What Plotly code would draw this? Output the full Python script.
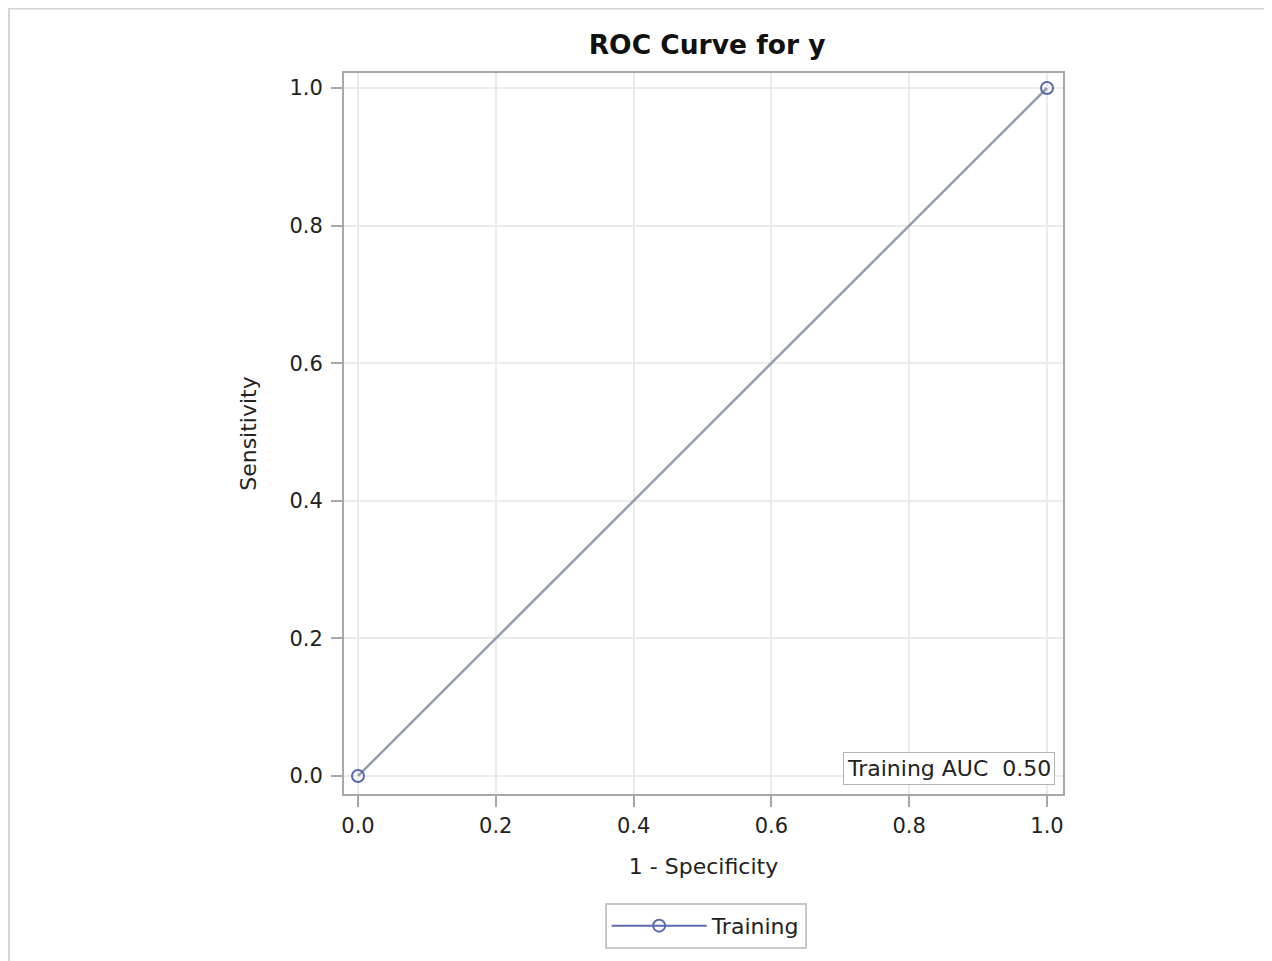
import plotly.graph_objects as go

fpr = [0.0, 1.0]
tpr = [0.0, 1.0]
series_name = "Training"
auc_label = "Training AUC&nbsp; 0.50"
ticks = [0.0, 0.2, 0.4, 0.6, 0.8, 1.0]
tick_text = ["0.0", "0.2", "0.4", "0.6", "0.8", "1.0"]

FONT = "DejaVu Sans, Verdana, sans-serif"
TXT = "#222222"
fig = go.Figure()
fig.add_trace(go.Scatter(x=fpr, y=tpr, mode="lines+markers", showlegend=False,
                         line=dict(color="#959db0", width=2.5),
                         marker=dict(symbol="circle-open", size=12, color="#5a6aab", line=dict(width=2))))
fig.add_trace(go.Scatter(x=[None], y=[None], mode="lines+markers", name=series_name,
                         line=dict(color="#5a6aab", width=2),
                         marker=dict(symbol="circle-open", size=12, color="#5a6aab", line=dict(width=2))))

axis_common = dict(tickvals=ticks, ticktext=tick_text, showgrid=True, gridcolor="#ebebeb", gridwidth=1.5,
                   zeroline=False, showline=True, linecolor="#a8a8a8", linewidth=2, mirror=True,
                   ticks="outside", ticklen=11, tickcolor="#a8a8a8", tickwidth=2,
                   tickfont=dict(size=21, color=TXT, family=FONT))
fig.update_xaxes(range=[-0.0203, 1.0232], ticklabelstandoff=1,
                 title=dict(text="1 - Specificity", font=dict(size=22, color=TXT, family=FONT), standoff=21),
                 **axis_common)
fig.update_yaxes(range=[-0.0262, 1.0218], ticklabelstandoff=4,
                 title=dict(text="Sensitivity", font=dict(size=22, color=TXT, family=FONT), standoff=27),
                 **axis_common)

fig.add_annotation(x=0.9889, y=0.0125, xref="paper", yref="paper", xanchor="right", yanchor="bottom",
                   text=auc_label, showarrow=False, font=dict(size=22, color=TXT, family=FONT),
                   bordercolor="#b4b4b4", borderwidth=1, borderpad=3, bgcolor="white")

fig.add_shape(type="path", xref="paper", yref="paper", path="M 2,1.0895 L -0.4659,1.0895 L -0.4659,-1",
              line=dict(color="#d4d4d4", width=2))

fig.update_layout(
    width=1264, height=953,
    margin=dict(l=336, r=209, t=65, b=167, autoexpand=False),
    paper_bgcolor="white", plot_bgcolor="white",
    title=dict(text="<b>ROC Curve for y</b>", x=0.505, xanchor="center", xref="paper",
               y=1 - 37/953, yanchor="middle", font=dict(size=26.5, color="#111", family=FONT)),
    legend=dict(orientation="h", x=0.503, xanchor="center", y=-0.151, yanchor="top",
                bordercolor="#c8c8c8", borderwidth=2, font=dict(size=22, color=TXT, family=FONT),
                itemwidth=95),
    font=dict(family=FONT),
)
fig.write_html("out.html")
